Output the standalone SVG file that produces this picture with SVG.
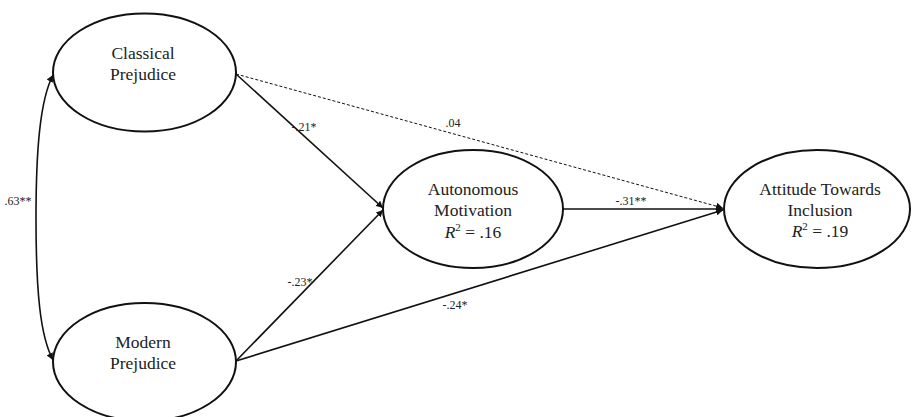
<svg xmlns="http://www.w3.org/2000/svg" width="912" height="417" viewBox="0 0 912 417">
<defs>
<marker id="ah" viewBox="0 0 10 10" refX="10" refY="5" markerWidth="7" markerHeight="7" markerUnits="userSpaceOnUse" orient="auto-start-reverse">
<path d="M0,0 L10,5 L0,10 z" fill="#111"/>
</marker>
</defs>
<style>
.node ellipse{fill:#fff;stroke:#111;stroke-width:2}
.node text{font-family:"Liberation Serif","Times New Roman",serif;font-size:17.5px;fill:#222;text-anchor:middle}
.edge{fill:none;stroke:#111;stroke-width:1.6}
.dash{stroke-width:1;stroke-dasharray:3,2}
.lbl{font-family:"Liberation Serif","Times New Roman",serif;font-size:12px;fill:#222;text-anchor:middle}
</style>
<rect width="912" height="417" fill="#fff"/>
<g id="connectors">
<path class="edge" d="M53,75 C40,100 36,150 36,218 C36,290 40,336 53,360" marker-start="url(#ah)" marker-end="url(#ah)"/>
<line class="edge" x1="236" y1="74" x2="383" y2="208" marker-end="url(#ah)"/>
<line class="edge" x1="236" y1="361" x2="383" y2="210" marker-end="url(#ah)"/>
<line class="edge dash" x1="236" y1="74" x2="723" y2="208" marker-end="url(#ah)"/>
<line class="edge" x1="563" y1="209" x2="723" y2="209" marker-end="url(#ah)"/>
<line class="edge" x1="236" y1="361" x2="723" y2="210" marker-end="url(#ah)"/>
<text class="lbl" x="18" y="205">.63**</text>
<text class="lbl" x="304" y="131">-.21*</text>
<text class="lbl" x="453" y="127">.04</text>
<text class="lbl" x="631" y="205">-.31**</text>
<text class="lbl" x="300" y="286">-.23*</text>
<text class="lbl" x="455" y="309">-.24*</text>
</g>
<g id="classical" class="node">
<ellipse cx="144.5" cy="72.5" rx="91.5" ry="59"/>
<text x="143" y="59">Classical</text>
<text x="143" y="80">Prejudice</text>
</g>
<g id="modern" class="node">
<ellipse cx="144.5" cy="362" rx="91.5" ry="59"/>
<text x="143" y="348">Modern</text>
<text x="143" y="369">Prejudice</text>
</g>
<g id="autonomous" class="node">
<ellipse cx="473" cy="209" rx="90" ry="59"/>
<text x="473" y="195">Autonomous</text>
<text x="473" y="216">Motivation</text>
<text x="473" y="238"><tspan font-style="italic">R</tspan><tspan font-size="11" dy="-7">2</tspan><tspan dy="7"> = .16</tspan></text>
</g>
<g id="attitude" class="node">
<ellipse cx="817" cy="209" rx="93" ry="59"/>
<text x="820" y="195">Attitude Towards</text>
<text x="820" y="216">Inclusion</text>
<text x="820" y="237"><tspan font-style="italic">R</tspan><tspan font-size="11" dy="-7">2</tspan><tspan dy="7"> = .19</tspan></text>
</g>
</svg>
